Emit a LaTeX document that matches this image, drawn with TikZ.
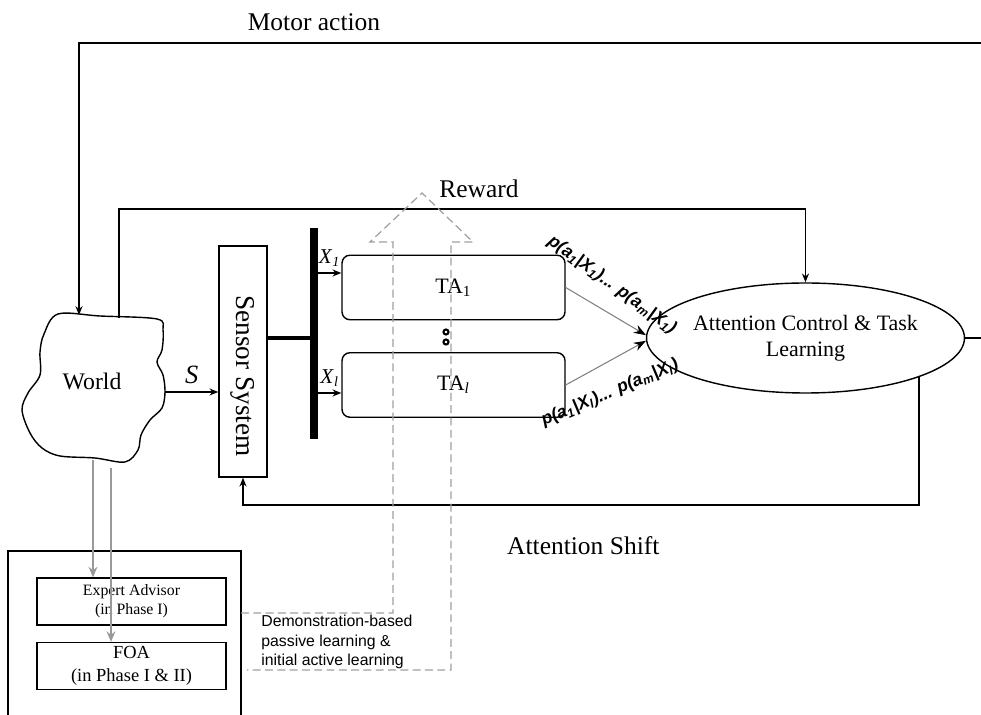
\documentclass[tikz,border=0pt]{standalone}
\usepackage{fontspec}
\setmainfont{Liberation Serif}
\setsansfont{Liberation Sans}
\usetikzlibrary{shapes,arrows,arrows.meta,calc,positioning}

\tikzset{
  blk/.style={draw, line width=0.8pt, minimum width=0.96cm, minimum height=4.62cm, inner sep=0pt},
  tabox/.style={draw, line width=0.8pt, rounded corners=4.5pt, minimum width=4.46cm, minimum height=1.29cm, font=\fontsize{12.5}{15}\selectfont},
  phasebox/.style={draw, line width=0.7pt, minimum width=3.78cm, minimum height=0.94cm, align=center, inner sep=0pt},
  conn/.style={draw, line width=0.8pt},
  grayconn/.style={draw=gray!80, line width=1.1pt, -{Stealth[length=6pt,width=5pt]}},
  probconn/.style={draw=gray, line width=0.6pt, -{Stealth[length=7pt,width=5pt,color=black]}},
  demo/.style={draw=gray!75, line width=0.7pt, dash pattern=on 4.5pt off 2.5pt},
  problbl/.style={font=\sffamily\bfseries\itshape\fontsize{10}{12}\selectfont, inner sep=0pt},
  lbl/.style={font=\fontsize{14.5}{17}\selectfont},
}

\begin{document}
\begin{tikzpicture}[>={Stealth[length=5pt,width=4pt]}]
        \useasboundingbox (0,0) rectangle (19.62,-14.3);

        \coordinate (world_n1) at (1.58,-6.30);
        \coordinate (world_n2) at (2.38,-6.36);
        \coordinate (world_e) at (3.30,-7.84);
        \coordinate (world_s1) at (1.86,-9.20);
        \coordinate (world_s2) at (2.22,-9.36);
        \coordinate (sensor) at (4.86,-7.23);
        \coordinate (bus_top) at (6.28,-4.56);
        \coordinate (bus_bot) at (6.28,-8.78);
        \coordinate (bus_mid) at (6.28,-6.76);
        \coordinate (bus_x1) at (6.36,-5.46);
        \coordinate (bus_xl) at (6.36,-7.86);
        \coordinate (ta1) at (9.07,-5.75);
        \coordinate (tal) at (9.07,-7.70);
        \coordinate (actl) at (16.11,-6.76);
        \coordinate (motor) at (0,-0.86);
        \coordinate (motor_r) at (19.72,-6.76);
        \coordinate (reward) at (0,-4.18);
        \coordinate (shift) at (0,-10.10);
        \coordinate (expert) at (2.63,-12.03);
        \coordinate (foa) at (2.63,-13.32);
        \coordinate (outer_l) at (0.16,-14.50);
        \coordinate (outer_r) at (4.82,-14.50);
        \coordinate (outer_t) at (0,-11.02);

        % world
        \draw[line width=0.8pt] plot[smooth cycle, tension=0.55] coordinates {
            (1.16,-6.28) (2.0,-6.32) (3.14,-6.38) (3.26,-6.6) (3.24,-7.0) (3.14,-7.24)
            (3.26,-7.5) (3.3,-7.84) (3.24,-8.16) (3.0,-8.4) (2.82,-8.7) (2.76,-9.0)
            (2.5,-9.24) (1.9,-9.16) (1.2,-9.12) (0.84,-8.96) (0.6,-8.66) (0.44,-8.2)
            (0.56,-7.86) (0.8,-7.5) (0.8,-7.04) (0.88,-6.68)};
        \node[font=\fontsize{13.5}{16}\selectfont] (World) at (1.84,-7.62) {World};

        \node[blk] (Sensor) at (sensor) {};
        \node[rotate=-90, font=\fontsize{15.5}{18}\selectfont] (SensorTxt) at ($(Sensor.center)+(0,-0.29)$) {Sensor System};

        \draw[line width=4.5pt] (bus_top) -- (bus_bot);
        \draw[line width=2.7pt] (Sensor.east |- bus_mid) -- (bus_mid);

        \node[tabox] (TA1) at (ta1) {TA\textsubscript{1}};
        \node[tabox] (TAl) at (tal) {TA\textsubscript{\textit{l}}};
        \draw[line width=1.2pt] (8.92,-6.64) circle[radius=0.05];
        \draw[line width=1.2pt] (8.92,-6.84) circle[radius=0.05];

        \node[ellipse, draw, line width=0.8pt, minimum width=6.3cm, minimum height=2.2cm, inner sep=0pt, align=center, font=\fontsize{12.5}{15}\selectfont] (ACTL) at (actl) {Attention Control \& Task\\Learning};

        \node[phasebox, font=\fontsize{9}{11}\selectfont] (Expert) at (expert) {Expert Advisor\\(in Phase I)};
        \node[phasebox, font=\fontsize{10.5}{13}\selectfont] (FOA) at (foa) {FOA\\(in Phase I \& II)};
        \draw[line width=1.2pt] (outer_l) |- (outer_t -| outer_r) -- (outer_r);

        \path[draw,->,line width=0.8pt] (world_e) -- node[above=1pt, font=\fontsize{15}{18}\selectfont\itshape]{S} (world_e -| Sensor.west);
        \path[draw,->,line width=0.8pt] (bus_x1) -- node[above=0pt, font=\fontsize{12}{14}\selectfont]{\textit{X}\textsubscript{\textit{1}}} (bus_x1 -| TA1.west);
        \path[draw,->,line width=0.8pt] (bus_xl) -- node[above=0pt, font=\fontsize{12}{14}\selectfont]{\textit{X}\textsubscript{\textit{l}}} (bus_xl -| TAl.west);

        \path[probconn] (TA1.east) -- (ACTL.179);
        \path[probconn] (TAl.east) -- (ACTL.181);
        \node[problbl, rotate=-36] (ProbA) at (12.24,-5.70) {p(a\textsubscript{1}|X\textsubscript{1})... p(a\textsubscript{m}|X\textsubscript{1})};
        \node[problbl, rotate=23] (ProbB) at (12.20,-7.86) {p(a\textsubscript{1}|X\textsubscript{\textit{l}})... p(a\textsubscript{m}|X\textsubscript{\textit{l}})};

        \path[draw,->,line width=0.8pt] (world_n2) |- (reward -| ACTL.north) -- (ACTL.north);
        \node[lbl] (RewardTxt) at (9.58,-3.78) {Reward};

        \path[draw,->,line width=0.8pt] (ACTL.east) -- (motor_r) |- (motor -| world_n1) -- (world_n1);
        \node[lbl] (MotorTxt) at (6.28,-0.44) {Motor action};

        \path[draw,->,line width=0.8pt] (ACTL.-19) |- (shift -| Sensor.south) -- (Sensor.south);
        \node[lbl, anchor=west] (ShiftTxt) at (10.02,-10.92) {Attention Shift};

        \path[grayconn] (world_s1) -- (world_s1 |- Expert.north);
        \path[grayconn] (world_s2) -- (world_s2 |- FOA.north);

        % demonstration path
        \path[demo] (4.82,-12.26) -- (7.86,-12.26) -- (7.86,-4.84) -- (7.40,-4.84) -- (8.44,-3.86)
            -- (9.46,-4.84) -- (9.02,-4.84) -- (9.02,-13.40) -- (4.94,-13.40);
        \node[anchor=west, align=left, inner sep=0pt, font=\sffamily\fontsize{9}{11}\selectfont] (DemoTxt) at (5.22,-12.84) {Demonstration-based\\passive learning \&\\initial active learning};
    \end{tikzpicture}
\end{document}
